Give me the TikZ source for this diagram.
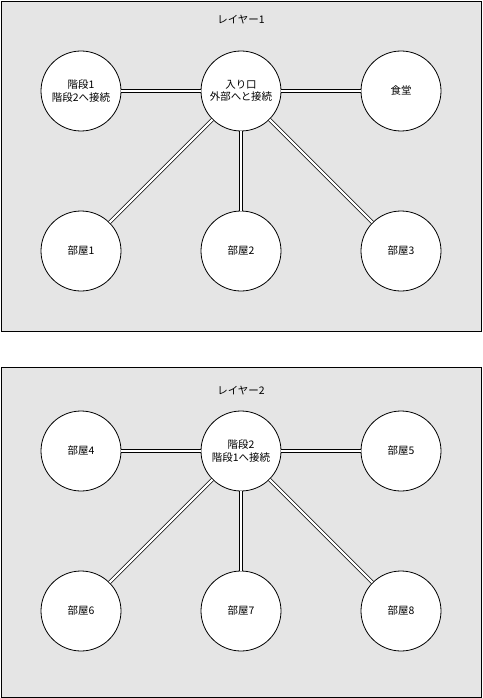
\documentclass[tikz,border=0pt]{standalone}
\usepackage{fontspec}
\setmainfont{Noto Sans CJK JP}
\usetikzlibrary{positioning}

\tikzset{
  layer/.style={draw=black, fill=black!10, line width=0.8bp},
  room/.style={circle, draw=black, fill=white, line width=0.8bp, minimum size=80bp,
    inner sep=0pt, align=center, font=\fontsize{10.5}{12.5}\selectfont},
  link/.style={double=white, draw=black, line width=0.7bp, double distance=2.4bp},
  title/.style={font=\fontsize{10.5}{12.5}\selectfont}
}

\begin{document}
\begin{tikzpicture}[x=1bp,y=-1bp]
\useasboundingbox (0,0) rectangle (483,698);

% layer 1
\draw[layer] (1,1) rectangle (481,331);
\node[title] (t1) at (241,20) {レイヤー1};
\node[room] (entry) at (241,91) {入り口\\外部へと接続};
\node[room] (stair1) at (81,91) {階段1\\階段2へ接続};
\node[room] (dining) at (401,91) {食堂};
\node[room] (r1) at (81,251) {部屋1};
\node[room] (r2) at (241,251) {部屋2};
\node[room] (r3) at (401,251) {部屋3};
\foreach \n in {stair1,dining,r1,r2,r3}
  \draw[link] (entry) -- (\n);

% layer 2
\draw[layer] (1,367) rectangle (481,697);
\node[title] (t2) at (241,391) {レイヤー2};
\node[room] (stair2) at (241,451) {階段2\\階段1へ接続};
\node[room] (r4) at (81,451) {部屋4};
\node[room] (r5) at (401,451) {部屋5};
\node[room] (r6) at (81,611) {部屋6};
\node[room] (r7) at (241,611) {部屋7};
\node[room] (r8) at (401,611) {部屋8};
\foreach \n in {r4,r5,r6,r7,r8}
  \draw[link] (stair2) -- (\n);
\end{tikzpicture}
\end{document}
